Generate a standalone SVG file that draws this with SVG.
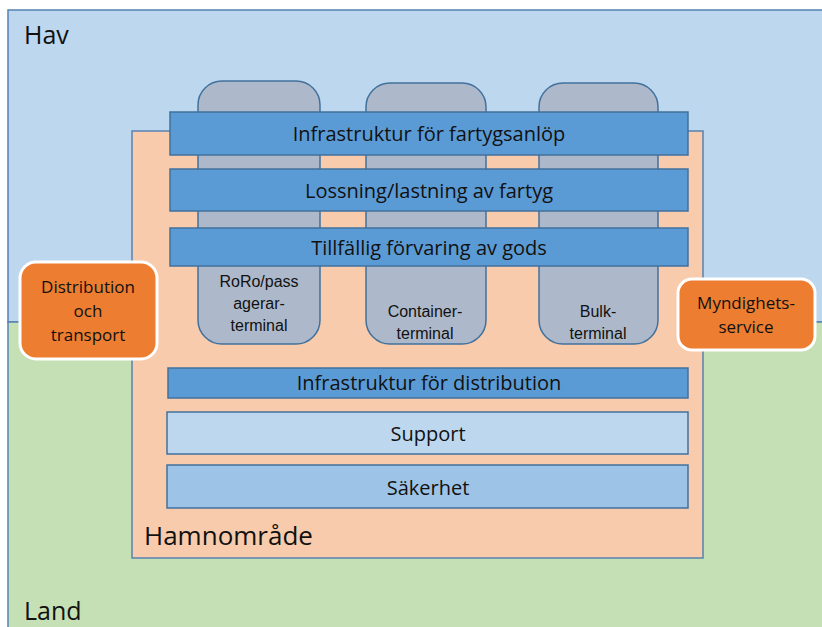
<svg xmlns="http://www.w3.org/2000/svg" width="822" height="627" viewBox="0 0 822 627">
<style>
text{font-family:"Open Sans","Liberation Sans",sans-serif;fill:#111;text-anchor:middle}
.zone{stroke:#5682b1;stroke-width:1.5}
.term{fill:#adb9ca;stroke:#41719c;stroke-width:1.5}
.bar{fill:#5b9bd5;stroke:#41719c;stroke-width:1.5}
.org{fill:#ed7d31;stroke:#fff;stroke-width:3}
.big{font-size:25px;text-anchor:start}
.bt{font-size:20px}
.st{font-size:16px;font-family:"Liberation Sans",sans-serif}
.ot{font-size:17px}
</style>
<g id="hav"><rect class="zone" x="8" y="10" width="830" height="312" fill="#bdd7ee"/><text class="big" x="24" y="44">Hav</text></g>
<g id="land"><rect class="zone" x="8" y="322" width="830" height="320" fill="#c5e0b4"/><text class="big" x="24" y="620">Land</text></g>
<g id="hamnomrade"><rect x="132" y="131" width="571" height="427" fill="#f8cbad" stroke="#5682b1" stroke-width="1.5"/><text class="big" x="144" y="545" style="font-size:26px">Hamnområde</text></g>
<g id="roro"><rect class="term" x="198" y="81" width="122" height="263" rx="24"/><text class="st" x="259" y="287">RoRo/pass</text><text class="st" x="259" y="309">agerar-</text><text class="st" x="259" y="331">terminal</text></g>
<g id="container"><rect class="term" x="366" y="83" width="120" height="261" rx="24"/><text class="st" x="425" y="317">Container-</text><text class="st" x="425" y="339">terminal</text></g>
<g id="bulk"><rect class="term" x="539" y="83" width="119" height="261" rx="24"/><text class="st" x="598" y="317">Bulk-</text><text class="st" x="598" y="339">terminal</text></g>
<g id="infra-fartyg"><rect class="bar" x="170" y="112" width="518" height="43"/><text class="bt" x="429" y="141">Infrastruktur för fartygsanlöp</text></g>
<g id="lossning"><rect class="bar" x="170" y="169" width="518" height="42"/><text class="bt" x="429" y="198">Lossning/lastning av fartyg</text></g>
<g id="tillfallig"><rect class="bar" x="170" y="228" width="518" height="38"/><text class="bt" x="429" y="255">Tillfällig förvaring av gods</text></g>
<g id="infra-distribution"><rect class="bar" x="168" y="368" width="520" height="30"/><text class="bt" x="429" y="390">Infrastruktur för distribution</text></g>
<g id="support"><rect x="167" y="412" width="521" height="42" fill="#bdd7ee" stroke="#41719c" stroke-width="1.5"/><text class="bt" x="428" y="441">Support</text></g>
<g id="sakerhet"><rect x="167" y="465" width="521" height="43" fill="#9dc3e6" stroke="#41719c" stroke-width="1.5"/><text class="bt" x="428" y="495">Säkerhet</text></g>
<g id="distribution"><rect class="org" x="20" y="262" width="137" height="97" rx="16"/><text class="ot" x="88" y="293">Distribution</text><text class="ot" x="88" y="317">och</text><text class="ot" x="88" y="341">transport</text></g>
<g id="myndighet"><rect class="org" x="678" y="279" width="137" height="71" rx="14"/><text class="ot" x="746" y="309">Myndighets-</text><text class="ot" x="746" y="333">service</text></g>
<g id="connectors"/>
</svg>
